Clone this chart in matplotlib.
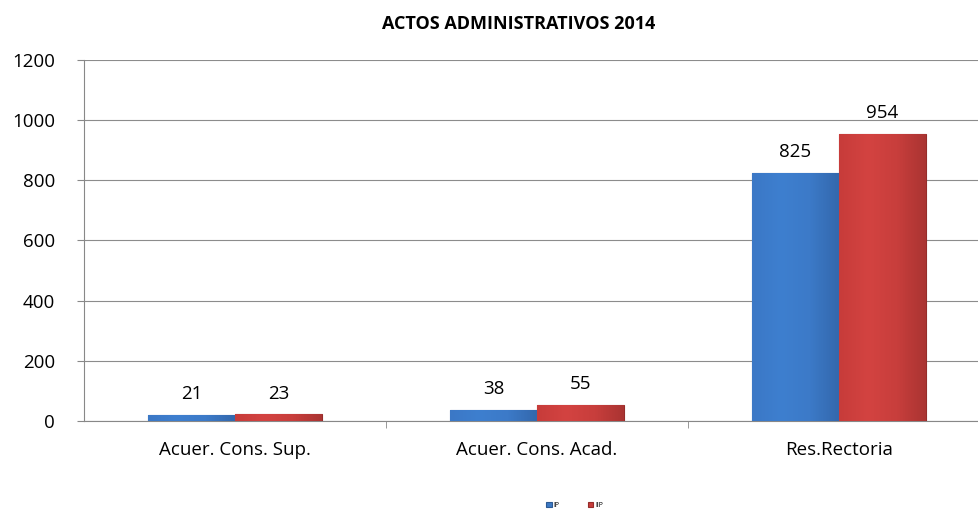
import numpy as np
import matplotlib.pyplot as plt
from matplotlib.colors import LinearSegmentedColormap

categorias = ["Acuer. Cons. Sup.", "Acuer. Cons. Acad.", "Res.Rectoria"]
ip = [21, 38, 825]
iip = [23, 55, 954]

plt.rcParams['font.family'] = ['Open Sans', 'DejaVu Sans']

fig = plt.figure(figsize=(9.79, 5.29), dpi=100)
ax = fig.add_axes([0.0858, 0.204, 0.9142, 0.683])

x = np.arange(len(categorias))
w = 0.288
azul = LinearSegmentedColormap.from_list("az", ["#3b78c6", "#3e7fcf", "#3c7ac8", "#3368ad"])
rojo = LinearSegmentedColormap.from_list("ro", ["#c73c3a", "#d34341", "#c83e3c", "#aa3432"])

barras_ip = ax.bar(x - w / 2, ip, w, color="#3c79c4", edgecolor="#2c5a94", linewidth=0.8, label="IP", zorder=3)
barras_iip = ax.bar(x + w / 2, iip, w, color="#c73c3a", edgecolor="#952c2a", linewidth=0.8, label="IIP", zorder=3)

# degradado suave dentro de cada barra
grad = np.linspace(0, 1, 100).reshape(1, -1)
for barras, cmap in [(barras_ip, azul), (barras_iip, rojo)]:
    for b in barras:
        x0, y0 = b.get_x(), b.get_y()
        im = ax.imshow(grad, cmap=cmap, aspect="auto", zorder=3.5,
                       extent=[x0, x0 + b.get_width(), y0, y0 + b.get_height()])
        im.set_clip_path(b)

for b, v in zip(barras_ip, ip):
    ax.text(b.get_x() + b.get_width() / 2, v + 38, str(v), ha="center", va="bottom", fontsize=13.5)
for b, v in zip(barras_iip, iip):
    ax.text(b.get_x() + b.get_width() / 2, v + 38, str(v), ha="center", va="bottom", fontsize=13.5)

ax.set_xlim(-0.5, -0.5 + 895 / 302)
ax.set_ylim(0, 1200)
ax.set_yticks(range(0, 1201, 200))
ax.set_xticks(x)
ax.set_xticklabels(categorias, fontsize=13.5)
ax.tick_params(axis="y", labelsize=13.5, length=5, color="#888888", pad=16)
ax.tick_params(axis="x", length=0, pad=14)
ax.set_xticks([0.5, 1.5], minor=True)
ax.tick_params(axis="x", which="minor", length=5, color="#888888")
ax.grid(axis="y", color="#8c8c8c", linewidth=0.8, zorder=0)
for s in ["top", "right"]:
    ax.spines[s].set_visible(False)
ax.spines["left"].set_color("#888888")
ax.spines["bottom"].set_color("#888888")

fig.suptitle("ACTOS ADMINISTRATIVOS 2014", x=0.53, y=0.972, fontsize=13, fontweight="bold")

fig.legend(loc="center", bbox_to_anchor=(0.587, 0.045), ncol=2, frameon=False,
           fontsize=5, handlelength=0.8, handleheight=0.8, columnspacing=4, handletextpad=0.3)

fig.savefig("out.png", dpi=100)
